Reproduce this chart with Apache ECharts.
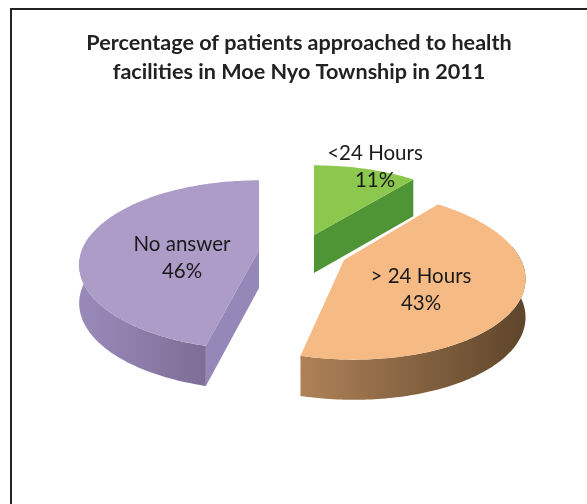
<!DOCTYPE html>
<html>
<head>
<meta charset="utf-8">
<script src="https://cdn.jsdelivr.net/npm/echarts@6/dist/echarts.min.js"></script>
<style>
	html, body {margin: 0; padding: 0; background: #fff;}
	#chart {width: 587px; height: 504px;}
</style>
</head>
<body>
<div id="chart"></div>
<script type="text/javascript">
	var categories = ['<24 Hours', '> 24 Hours', 'No answer'];
	var percents = [11, 43, 46];

	// layout of the tilted pie, one entry per slice
	var apex = [[314, 235], [344, 260], [259, 250]];
	var shear = [0, 0.1, 0];
	var labelAt = [[375, 167], [421, 290], [182, 258]];
	var topColor = ['#8CC84E', '#F6BB85', '#AD9BC8'];
	var wallColor = [['#4E9434', '#4E9434'], ['#AE8258', '#5E452B'], ['#9A8ABA', '#7D6E96']];
	var cutColor = ['#4F9535', '#8A6842', '#9587B8'];

	var R = 177, K = 82, P = 0.177, DEPTH = 28, DEPTH_F = 10;
	var FONT = 'Lato, "Open Sans", sans-serif';

	function rim(i, deg, down) {
		var c = apex[i];
		var t = deg * Math.PI / 180;
		var f = 1 / (1 - P * Math.sin(t));
		var dy = K * Math.sin(t) * f;
		var y = c[1] + dy;
		return [c[0] + R * Math.cos(t) * f + shear[i] * dy, down ? y + DEPTH + DEPTH_F * f : y];
	}

	function arc(i, from, to, down) {
		var pts = [];
		var n = Math.max(2, Math.ceil(Math.abs(to - from)));
		for (var k = 0; k <= n; k++) {
			pts.push(rim(i, from + (to - from) * k / n, down));
		}
		return pts;
	}

	function renderSlice(params, api) {
		var i = params.dataIndex;
		var c = apex[i];
		var start = api.value(1), end = api.value(2);
		var children = [];
		var apexDown = [c[0], c[1] + DEPTH + DEPTH_F];

		// side wall along the rim
		var a = Math.max(start, -10), b = Math.min(end, 190);
		if (b > a) {
			children.push({
				type: 'polygon',
				shape: {points: arc(i, a, b, false).concat(arc(i, b, a, true))},
				style: {
					fill: new echarts.graphic.LinearGradient(1, 0, 0, 0, [
						{offset: 0, color: wallColor[i][1]},
						{offset: 1, color: wallColor[i][0]}
					])
				}
			});
		}
		// cut face turned towards the viewer
		var cutDeg = i === 0 ? end : (i === 2 ? start : null);
		if (cutDeg !== null) {
			var r0 = rim(i, cutDeg, false), r1 = rim(i, cutDeg, true);
			children.push({
				type: 'polygon',
				shape: {points: [c, r0, r1, apexDown]},
				style: {fill: cutColor[i]}
			});
		}
		// top face
		children.push({
			type: 'polygon',
			shape: {points: [c].concat(arc(i, start, end, false))},
			style: {fill: topColor[i]}
		});
		children.push({
			type: 'text',
			x: labelAt[i][0],
			y: labelAt[i][1],
			style: {
				text: categories[i] + '\n' + percents[i] + '%',
				fill: '#1a1a1a',
				font: '20.5px ' + FONT,
				lineHeight: 27.5,
				align: 'center',
				verticalAlign: 'middle'
			}
		});
		return {type: 'group', children: children};
	}

	// slices run clockwise from twelve o'clock
	var sliceData = [];
	var total = percents.reduce(function (s, v) { return s + v; }, 0);
	var acc = 0;
	percents.forEach(function (v, i) {
		var start = -90 + acc / total * 360;
		acc += v;
		sliceData.push([i, start, -90 + acc / total * 360]);
	});

	var myChart = echarts.init(document.getElementById('chart'), null, {renderer: 'canvas'});
	myChart.setOption({
		animation: false,
		backgroundColor: '#fff',
		title: {
			text: 'Percentage of patients approached to health\nfacilities in Moe Nyo Township in 2011',
			left: 294,
			top: 24,
			textAlign: 'center',
			textStyle: {
				fontFamily: FONT,
				fontSize: 21.6,
				fontWeight: 'bold',
				color: '#222',
				lineHeight: 29
			}
		},
		graphic: [{
			type: 'polyline',
			silent: true,
			shape: {points: [[11, 504], [11, 9], [587, 9]]},
			style: {stroke: '#222', lineWidth: 2, fill: null}
		}],
		series: [{
			type: 'custom',
			coordinateSystem: 'none',
			renderItem: renderSlice,
			data: sliceData
		}]
	});
</script>
</body>
</html>
